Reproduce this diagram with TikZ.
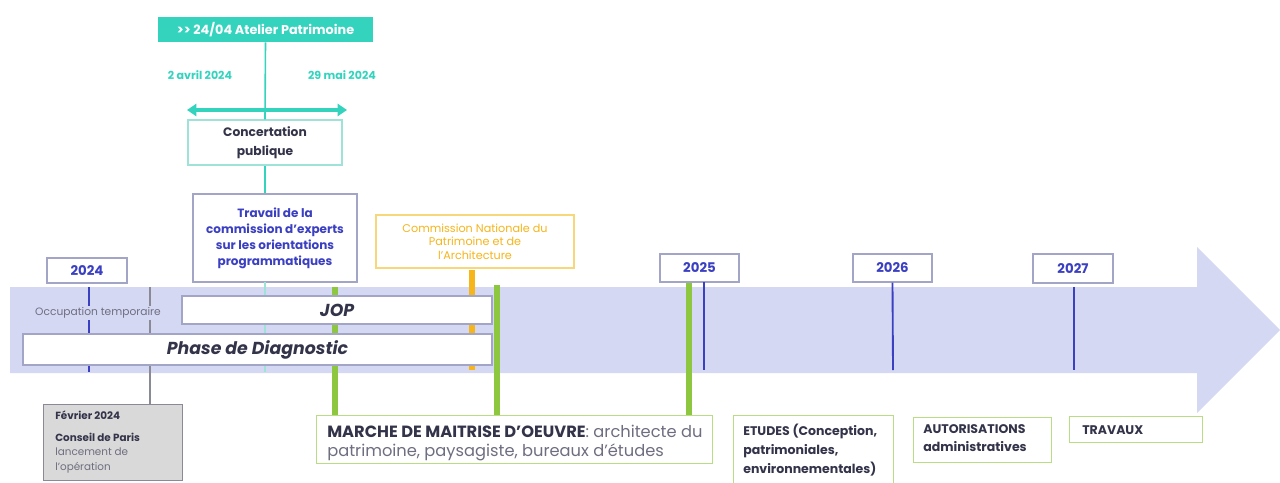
\documentclass[tikz,border=0pt]{standalone}
\usepackage{fontspec}
\setmainfont{Poppins}
\usetikzlibrary{arrows.meta}
\definecolor{lav}{HTML}{D5D8F3}
\definecolor{tealc}{HTML}{33D3BE}
\definecolor{tealfaint}{HTML}{9FE3D8}
\definecolor{bluec}{HTML}{3B3FC2}
\definecolor{greenc}{HTML}{8DC63F}
\definecolor{greenb}{HTML}{B9DD85}
\definecolor{goldc}{HTML}{F6B51B}
\definecolor{goldb}{HTML}{F7D77A}
\definecolor{boxb}{HTML}{A3A5C6}
\definecolor{darkt}{HTML}{33344A}
\definecolor{greyt}{HTML}{6E6E80}
\definecolor{greyl}{HTML}{8A8A96}
\tikzset{
  wh/.style 2 args={minimum width=#1*0.75pt, minimum height=#2*0.75pt},
  basebox/.style={draw, fill=white, inner sep=2pt, line width=0.8pt},
  yearbox/.style={basebox, draw=boxb, text=bluec, font=\fontsize{10}{12}\selectfont\bfseries},
  yeartick/.style={draw=bluec, line width=1.4pt},
  greenbar/.style={draw=greenc, line width=4.5pt},
  phasebox/.style={basebox, draw=boxb, text=darkt, font=\fontsize{13}{15}\selectfont\bfseries\itshape},
  stepbox/.style={draw=greenb, fill=white, line width=0.8pt, anchor=north west, inner sep=0pt},
  steptext/.style={anchor=north west, align=left, text=darkt, inner sep=0pt},
}
\begin{document}
\begin{tikzpicture}[x=0.75pt,y=-0.75pt]
\useasboundingbox (0,0) rectangle (1280,482);
% big arrow
\fill[lav] (10,287) -- (1197,287) -- (1197,247) -- (1280,330) -- (1197,413) -- (1197,373) -- (10,373) -- cycle;

% top teal items
\node[fill=tealc, text=white, wh={215}{25}, font=\fontsize{9.6}{10}\selectfont\bfseries, inner sep=0pt] (atelier) at (265.5,29.5) {>{}> 24/04 Atelier Patrimoine};
\node[text=tealc, font=\fontsize{8.3}{9}\selectfont\bfseries] (d1) at (200,75) {2 avril 2024};
\node[text=tealc, font=\fontsize{8.3}{9}\selectfont\bfseries] (d2) at (342,75) {29 mai 2024};
\node[basebox, draw=tealfaint, wh={154}{45}, text=darkt, align=center, font=\fontsize{9.2}{14}\selectfont\bfseries] (concert) at (265,142.5) {Concertation\\publique};
\coordinate (ar1) at (187,110);
\coordinate (ar2) at (347,110);
\draw[tealc, line width=2.5pt, {Triangle[length=7pt,width=9pt]}-{Triangle[length=7pt,width=9pt]}] (ar1) -- (ar2);
\draw[tealc, line width=1.2pt] (atelier.south) -- (concert.north);

\node[basebox, draw=boxb, wh={164}{88}, text=bluec, align=center, font=\fontsize{9}{12}\selectfont\bfseries] (travail) at (275,238) {Travail de la\\commission d'experts\\sur les orientations\\programmatiques};
\draw[tealc, line width=1.2pt] (concert.south) -- (concert.south |- travail.north);
\coordinate (tealtop) at (265,282);
\coordinate (tealend) at (265,372);

\node[basebox, draw=goldb, wh={198}{53}, text=goldc, align=center, font=\fontsize{8.4}{10.2}\selectfont] (cnpa) at (475,241.5) {Commission Nationale du\\Patrimoine et de\\l'Architecture};

% year boxes
\node[yearbox, wh={80}{25}] (y24) at (87,270.5) {2024};
\node[yearbox, wh={79}{28}] (y25) at (699.5,268) {2025};
\node[yearbox, wh={79}{28}] (y26) at (892.5,268) {2026};
\node[yearbox, wh={80}{29}] (y27) at (1073,268.5) {2027};
\coordinate (t24) at (89,372);
\coordinate (t24a) at (89,287);
\coordinate (t25a) at (704,282);
\coordinate (t25) at (704,370);
\coordinate (t26) at (893,370);
\coordinate (t27a) at (1074,287);
\coordinate (t27) at (1074,370);

% bottom boxes
\node[draw=greyl, fill=black!15, line width=0.8pt, wh={139}{76}, anchor=north west, inner sep=0pt] (fev) at (43,404) {};
\node[steptext, font=\fontsize{7.8}{11}\selectfont] (fevtxt) at (55,411) {\textbf{Février 2024}\\[5pt]\textbf{Conseil de Paris}\\{\color{greyt}lancement de}\\{\color{greyt}l'opération}};

\node[stepbox, wh={396}{48}] (marche) at (316,415) {};
\node[steptext, font=\fontsize{12.2}{14}\selectfont] (mtxt) at (327,425) {\textbf{MARCHE DE MAITRISE D'OEUVRE}{\color{greyt}: architecte du}\\{\color{greyt}patrimoine, paysagiste, bureaux d'études}};
\node[stepbox, wh={160}{70}] (etudes) at (733,415) {};
\node[steptext, font=\fontsize{9.4}{14}\selectfont\bfseries] (etxt) at (743,424) {ETUDES (Conception,\\patrimoniales,\\environnementales)};
\node[stepbox, wh={138}{45}] (autor) at (913,417) {};
\node[steptext, font=\fontsize{9.4}{14}\selectfont\bfseries] (atxt) at (923,424) {AUTORISATIONS\\administratives};
\node[stepbox, wh={133}{26}] (trav) at (1069,416) {};
\node[anchor=west, text=darkt, font=\fontsize{9.4}{10}\selectfont\bfseries, inner sep=0pt] (ttxt) at (1082,430) {TRAVAUX};

% lines in the arrow (behind the phase boxes)
\draw[tealfaint, line width=1pt] (tealtop) -- (tealend);
\draw[yeartick] (t24a) -- (t24);
\draw[yeartick] (t25a) -- (t25);
\draw[yeartick] (y26.south) -- (t26);
\draw[yeartick] (t27a) -- (t27);
\coordinate (g150) at (150,287);
\draw[greyl, line width=1.2pt] (g150) -- (fev.north -| g150);
\coordinate (o1) at (472,270);
\coordinate (o2) at (472,370);
\draw[goldc, line width=4.5pt] (o1) -- (o2);
\coordinate (g1) at (335,287);
\coordinate (g2) at (497,285);
\coordinate (g3) at (689,283);
\draw[greenbar] (g1) -- (g1 |- marche.north);
\draw[greenbar] (g2) -- (g2 |- marche.north);
\draw[greenbar] (g3) -- (g3 |- marche.north);

\node[fill=lav, text=greyt, font=\fontsize{8}{9}\selectfont, inner sep=1pt] (occ) at (98,313) {Occupation temporaire};
\node[phasebox, wh={310}{28}] (jop) at (337,310) {JOP};
\node[phasebox, wh={469}{31}] (diag) at (257.5,349.5) {Phase de Diagnostic};
\end{tikzpicture}
\end{document}
